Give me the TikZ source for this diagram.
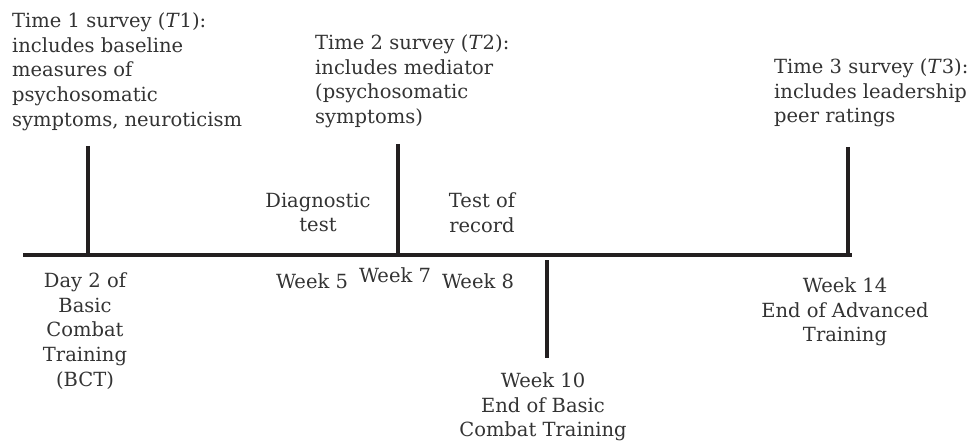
\documentclass[tikz,border=0pt]{standalone}
\usepackage{fontspec}
\setmainfont{DejaVu Serif}
\definecolor{txt}{HTML}{333333}
\definecolor{ln}{HTML}{231F20}
\begin{document}
\begin{tikzpicture}[x=1pt,y=-1pt,
  lbl/.style={inner sep=0pt,text=txt,font=\fontsize{19.5}{24.7}\selectfont},
  bar/.style={draw=ln,line width=3.6pt}]
\useasboundingbox (0,0) rectangle (968,446);
% timeline
\coordinate (L) at (23,255);
\coordinate (R) at (852,255);
\draw[bar] (L) -- (R);
\coordinate (t1a) at (88,146); \coordinate (t1b) at (88,255);
\coordinate (t2a) at (398,144); \coordinate (t2b) at (398,255);
\coordinate (t3a) at (848,147); \coordinate (t3b) at (848,255);
\coordinate (w10a) at (547,260); \coordinate (w10b) at (547,358);
\draw[bar] (t1a) -- (t1b);
\draw[bar] (t2a) -- (t2b);
\draw[bar] (t3a) -- (t3b);
\draw[bar] (w10a) -- (w10b);
% top texts
\node[lbl,anchor=north west,align=left] (T1) at (12,12.5) {Time 1 survey (\textit{T}1):\\includes baseline\\measures of\\psychosomatic\\symptoms, neuroticism};
\node[lbl,anchor=north west,align=left] (T2) at (315,34.5) {Time 2 survey (\textit{T}2):\\includes mediator\\(psychosomatic\\symptoms)};
\node[lbl,anchor=north west,align=left] (T3) at (774,58.5) {Time 3 survey (\textit{T}3):\\includes leadership\\peer ratings};
\node[lbl,anchor=north,align=center] (diag) at (318,192.5) {Diagnostic\\test};
\node[lbl,anchor=north,align=center] (tor) at (482,192.5) {Test of\\record};
% bottom texts
\node[lbl,anchor=north,align=center] (d2) at (85,272.5) {Day 2 of\\Basic\\Combat\\Training\\(BCT)};
\node[lbl,anchor=north] (w5) at (312,273.5) {Week 5};
\node[lbl,anchor=north] (w7) at (395,267.5) {Week 7};
\node[lbl,anchor=north] (w8) at (478,273.5) {Week 8};
\node[lbl,anchor=north,align=center] (w10) at (543,372.5) {Week 10\\End of Basic\\Combat Training};
\node[lbl,anchor=north,align=center] (w14) at (845,277.5) {Week 14\\End of Advanced\\Training};
\end{tikzpicture}
\end{document}
